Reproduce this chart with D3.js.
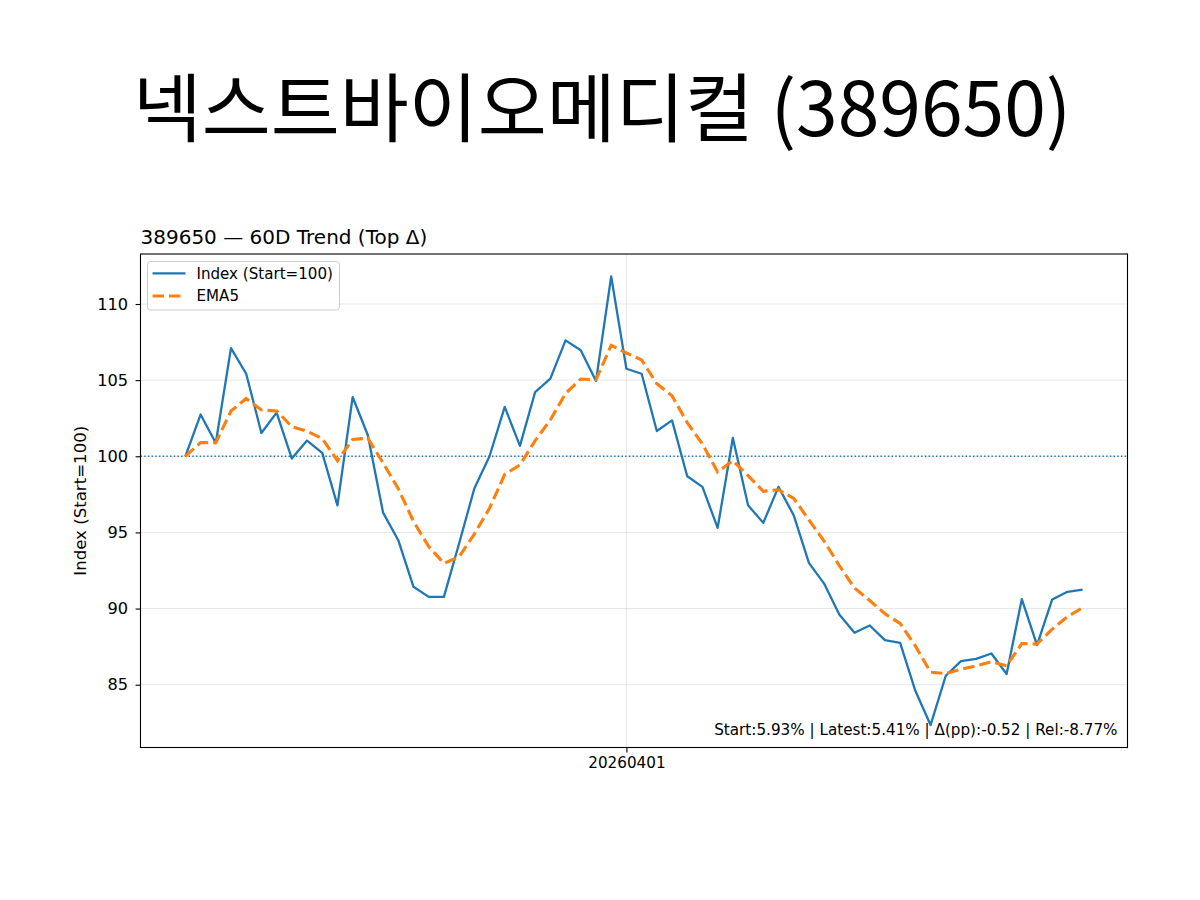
<!DOCTYPE html>
<html>
<head>
<meta charset="utf-8">
<script src="https://cdn.jsdelivr.net/npm/d3@7"></script>
<style>
  body { margin: 0; background: #fff; }
  svg { display: block; }
</style>
</head>
<body>
<script>
var width = 1200
var height = 900

// index series, start = 100
var indexValues = [
  100.00, 102.74, 100.87, 107.10, 105.42, 101.53, 102.87, 99.85, 101.03, 100.22,
  96.78, 103.89, 101.38, 96.30, 94.49, 91.43, 90.77, 90.77, 94.27, 97.88,
  100.00, 103.24, 100.68, 104.22, 105.10, 107.61, 106.96, 104.94, 111.81, 105.75,
  105.42, 101.66, 102.36, 98.69, 97.99, 95.30, 101.20, 96.78, 95.63, 97.99,
  96.13, 93.00, 91.64, 89.61, 88.41, 88.89, 87.93, 87.75, 84.60, 82.35,
  85.59, 86.55, 86.70, 87.05, 85.70, 90.62, 87.60, 90.60, 91.10, 91.25
]

// EMA5 as drawn
var emaValues = [
  100.00, 100.90, 100.90, 102.97, 103.79, 103.04, 102.98, 101.94, 101.64, 101.17,
  99.71, 101.10, 101.19, 99.56, 97.87, 95.72, 94.07, 92.97, 93.40, 94.89,
  96.59, 98.81, 99.43, 101.03, 102.39, 104.13, 105.07, 105.03, 107.29, 106.78,
  106.33, 104.77, 103.97, 102.21, 100.80, 98.97, 99.71, 98.73, 97.70, 97.80,
  97.24, 95.83, 94.43, 92.82, 91.35, 90.53, 89.66, 89.02, 87.55, 85.82,
  85.74, 86.01, 86.24, 86.51, 86.24, 87.70, 87.67, 88.65, 89.47, 90.06
]

var xTickIndex = [29]
var xTickLabels = ["20260401"]
var yTicks = [85, 90, 95, 100, 105, 110]

var title = "넥스트바이오메디컬 (389650)"
var subtitle = "389650 — 60D Trend (Top Δ)"
var yLabel = "Index (Start=100)"
var statsText = "Start:5.93% | Latest:5.41% | Δ(pp):-0.52 | Rel:-8.77%"
var seriesNames = ["Index (Start=100)", "EMA5"]

const blue = "#1f77b4",
  orange = "#ff7f0e",
  latin = "'DejaVu Sans', sans-serif";

const plot = { left: 140.5, right: 1127.5, top: 254, bottom: 747.5 };

const svg = d3.select("body").append("svg")
  .attr("width", width).attr("height", height)
  .attr("viewBox", [0, 0, width, height]);

// matplotlib style 5% margins
const n = indexValues.length;
const xPad = (n - 1) * 0.05;
const x = d3.scaleLinear()
  .domain([-xPad, n - 1 + xPad])
  .range([plot.left, plot.right]);

const all = indexValues.concat(emaValues);
const lo = d3.min(all), hi = d3.max(all), yPad = (hi - lo) * 0.05;
const y = d3.scaleLinear()
  .domain([lo - yPad, hi + yPad])
  .range([plot.bottom, plot.top]);

// grid
const grid = svg.append("g").attr("stroke", "#b0b0b0").attr("stroke-opacity", 0.3).attr("stroke-width", 1);
grid.selectAll("line.h").data(yTicks).join("line")
  .attr("x1", plot.left).attr("x2", plot.right)
  .attr("y1", d => y(d)).attr("y2", d => y(d));
grid.selectAll("line.v").data(xTickIndex).join("line")
  .attr("x1", d => x(d)).attr("x2", d => x(d))
  .attr("y1", plot.top).attr("y2", plot.bottom);

// baseline 100
svg.append("line")
  .attr("x1", plot.left).attr("x2", plot.right)
  .attr("y1", y(100)).attr("y2", y(100))
  .attr("stroke", blue).attr("stroke-width", 1.4)
  .attr("stroke-dasharray", "1.4,2.3");

const line = d3.line().x((d, i) => x(i)).y(d => y(d));

svg.append("path").datum(indexValues)
  .attr("d", line).attr("fill", "none")
  .attr("stroke", blue).attr("stroke-width", 2.3)
  .attr("stroke-linejoin", "round");

svg.append("path").datum(emaValues)
  .attr("d", line).attr("fill", "none")
  .attr("stroke", orange).attr("stroke-width", 3.1)
  .attr("stroke-dasharray", "11.5,5");

// axes
const yAxis = svg.append("g")
  .attr("transform", `translate(${plot.left},0)`)
  .call(d3.axisLeft(y).tickValues(yTicks).tickSize(4.9).tickPadding(7.5));
yAxis.select(".domain").remove();
yAxis.selectAll("text").attr("font-family", latin).attr("font-size", 16.2).attr("fill", "#000");
yAxis.selectAll("line").attr("stroke", "#000").attr("stroke-width", 1.1);

const xAxis = svg.append("g")
  .attr("transform", `translate(0,${plot.bottom})`)
  .call(d3.axisBottom(x).tickValues(xTickIndex)
    .tickFormat((d, i) => xTickLabels[i]).tickSize(4.9).tickPadding(4.5));
xAxis.select(".domain").remove();
xAxis.selectAll("text").attr("font-family", latin).attr("font-size", 15.2).attr("fill", "#000");
xAxis.selectAll("line").attr("stroke", "#000").attr("stroke-width", 1.1);

// frame
svg.append("rect")
  .attr("x", plot.left).attr("y", plot.top)
  .attr("width", plot.right - plot.left).attr("height", plot.bottom - plot.top)
  .attr("fill", "none").attr("stroke", "#000").attr("stroke-width", 1.1);

// stats annotation
svg.append("text")
  .attr("x", plot.right - 10).attr("y", 734.5)
  .attr("text-anchor", "end")
  .attr("font-family", latin).attr("font-size", 15.2)
  .text(statsText);

// legend
const legend = svg.append("g").attr("transform", "translate(147.5,261.5)");
legend.append("rect")
  .attr("width", 192).attr("height", 48.5).attr("rx", 3)
  .attr("fill", "#fff").attr("fill-opacity", 0.8)
  .attr("stroke", "#cccccc").attr("stroke-width", 1);
const items = legend.selectAll("g.item").data(seriesNames).join("g")
  .attr("transform", (d, i) => `translate(0,${11.8 + i * 22.7})`);
items.append("line")
  .attr("x1", 5).attr("x2", 38)
  .attr("stroke", (d, i) => i ? orange : blue)
  .attr("stroke-width", (d, i) => i ? 3.1 : 2.3)
  .attr("stroke-dasharray", (d, i) => i ? "11.5,5" : null);
items.append("text")
  .attr("x", 49).attr("y", 5.3)
  .attr("font-family", latin).attr("font-size", 15.1)
  .text(d => d);

// y label
svg.append("text")
  .attr("transform", `translate(86,${(plot.top + plot.bottom) / 2}) rotate(-90)`)
  .attr("text-anchor", "middle")
  .attr("font-family", latin).attr("font-size", 16.6)
  .text(yLabel);

// subtitle
svg.append("text")
  .attr("x", plot.left).attr("y", 244)
  .attr("font-family", latin).attr("font-size", 20)
  .text(subtitle);

// main title
svg.append("text")
  .attr("x", 602).attr("y", 136)
  .attr("text-anchor", "middle")
  .attr("font-family", "'Noto Sans CJK KR', 'Noto Sans', sans-serif")
  .attr("font-size", 75)
  .text(title);
</script>
</body>
</html>
